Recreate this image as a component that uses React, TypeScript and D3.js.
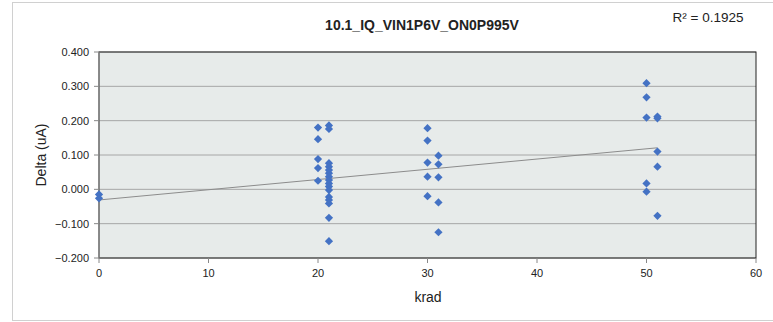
import React from "react";
import * as d3 from "d3";

const title = "10.1_IQ_VIN1P6V_ON0P995V";
const r2Label = "R² = 0.1925";
const xLabel = "krad";
const yLabel = "Delta (uA)";

const xTicks = [0, 10, 20, 30, 40, 50, 60];
const yTicks = [-0.2, -0.1, 0, 0.1, 0.2, 0.3, 0.4];

const krad = [
  0, 0,
  20, 20, 20, 20, 20,
  21, 21, 21, 21, 21, 21, 21, 21, 21, 21, 21, 21, 21, 21, 21, 21,
  30, 30, 30, 30, 30,
  31, 31, 31, 31, 31,
  50, 50, 50, 50, 50,
  51, 51, 51, 51, 51,
];
const delta = [
  -0.015, -0.026,
  0.180, 0.146, 0.088, 0.062, 0.025,
  0.186, 0.176, 0.076, 0.066, 0.056, 0.047, 0.037, 0.027, 0.017, 0.008, -0.002, -0.022, -0.031, -0.041, -0.083, -0.151,
  0.178, 0.142, 0.078, 0.037, -0.020,
  0.098, 0.073, 0.035, -0.038, -0.125,
  0.309, 0.268, 0.209, 0.017, -0.007,
  0.212, 0.207, 0.110, 0.066, -0.077,
];

const trendIntercept = -0.031;
const trendSlope = 0.00298;

export default function App() {
  const W = 773, H = 322;
  const left = 99, right = 756, top = 52, bottom = 258;
  const x = d3.scaleLinear().domain([0, 60]).range([left, right]);
  const y = d3.scaleLinear().domain([-0.2, 0.4]).range([bottom, top]);
  const fmt = d3.format(".3f");
  const font = "'Liberation Sans', Arial, sans-serif";
  const xMin = d3.min(krad) as number;
  const xMax = d3.max(krad) as number;
  const diamond = d3.symbol().type(d3.symbolSquare).size(34)() as string;

  return (
    <svg width={W} height={H} style={{ position: "absolute", left: 0, top: 0 }} fontFamily={font}>
      <rect x={0} y={0} width={W} height={H} fill="#fff" />
      <rect x={12.5} y={2.5} width={W} height={318} fill="#fff" stroke="#d0d0d0" />
      <rect x={left} y={top} width={right - left} height={bottom - top} fill="#e7ebea" />
      {yTicks.map((t) => (
        <line key={"g" + t} x1={left} x2={right} y1={y(t)} y2={y(t)} stroke="#a6a6a6" strokeWidth={1} />
      ))}
      <rect x={left} y={top} width={right - left} height={bottom - top} fill="none" stroke="#222" strokeWidth={1} />
      <line x1={left} x2={left} y1={top} y2={bottom} stroke="#888" strokeWidth={1.2} />
      {yTicks.map((t) => (
        <g key={"y" + t}>
          <line x1={left - 5} x2={left} y1={y(t)} y2={y(t)} stroke="#888" />
          <text x={left - 10} y={y(t)} dy="0.35em" textAnchor="end" fontSize={11} fill="#222">
            {fmt(t)}
          </text>
        </g>
      ))}
      {xTicks.map((t) => (
        <g key={"x" + t}>
          <line x1={x(t)} x2={x(t)} y1={bottom} y2={bottom + 5} stroke="#888" />
          <text x={x(t)} y={bottom + 19} textAnchor="middle" fontSize={11} fill="#222">
            {t}
          </text>
        </g>
      ))}
      <line
        x1={x(xMin)}
        y1={y(trendIntercept + trendSlope * xMin)}
        x2={x(xMax)}
        y2={y(trendIntercept + trendSlope * xMax)}
        stroke="#8c8c8c"
        strokeWidth={1}
      />
      {krad.map((k, i) => (
        <path key={i} d={diamond} transform={`translate(${x(k)},${y(delta[i])}) rotate(45)`} fill="#4472c4" />
      ))}
      <text x={422} y={30} textAnchor="middle" fontSize={14} fontWeight="bold" fill="#222">
        {title}
      </text>
      <text x={708} y={22} textAnchor="middle" fontSize={13.5} fill="#222">
        {r2Label}
      </text>
      <text x={428} y={302} textAnchor="middle" fontSize={14} fill="#222">
        {xLabel}
      </text>
      <text transform={`translate(46,${(top + bottom) / 2}) rotate(-90)`} textAnchor="middle" fontSize={14} fill="#222">
        {yLabel}
      </text>
    </svg>
  );
}
